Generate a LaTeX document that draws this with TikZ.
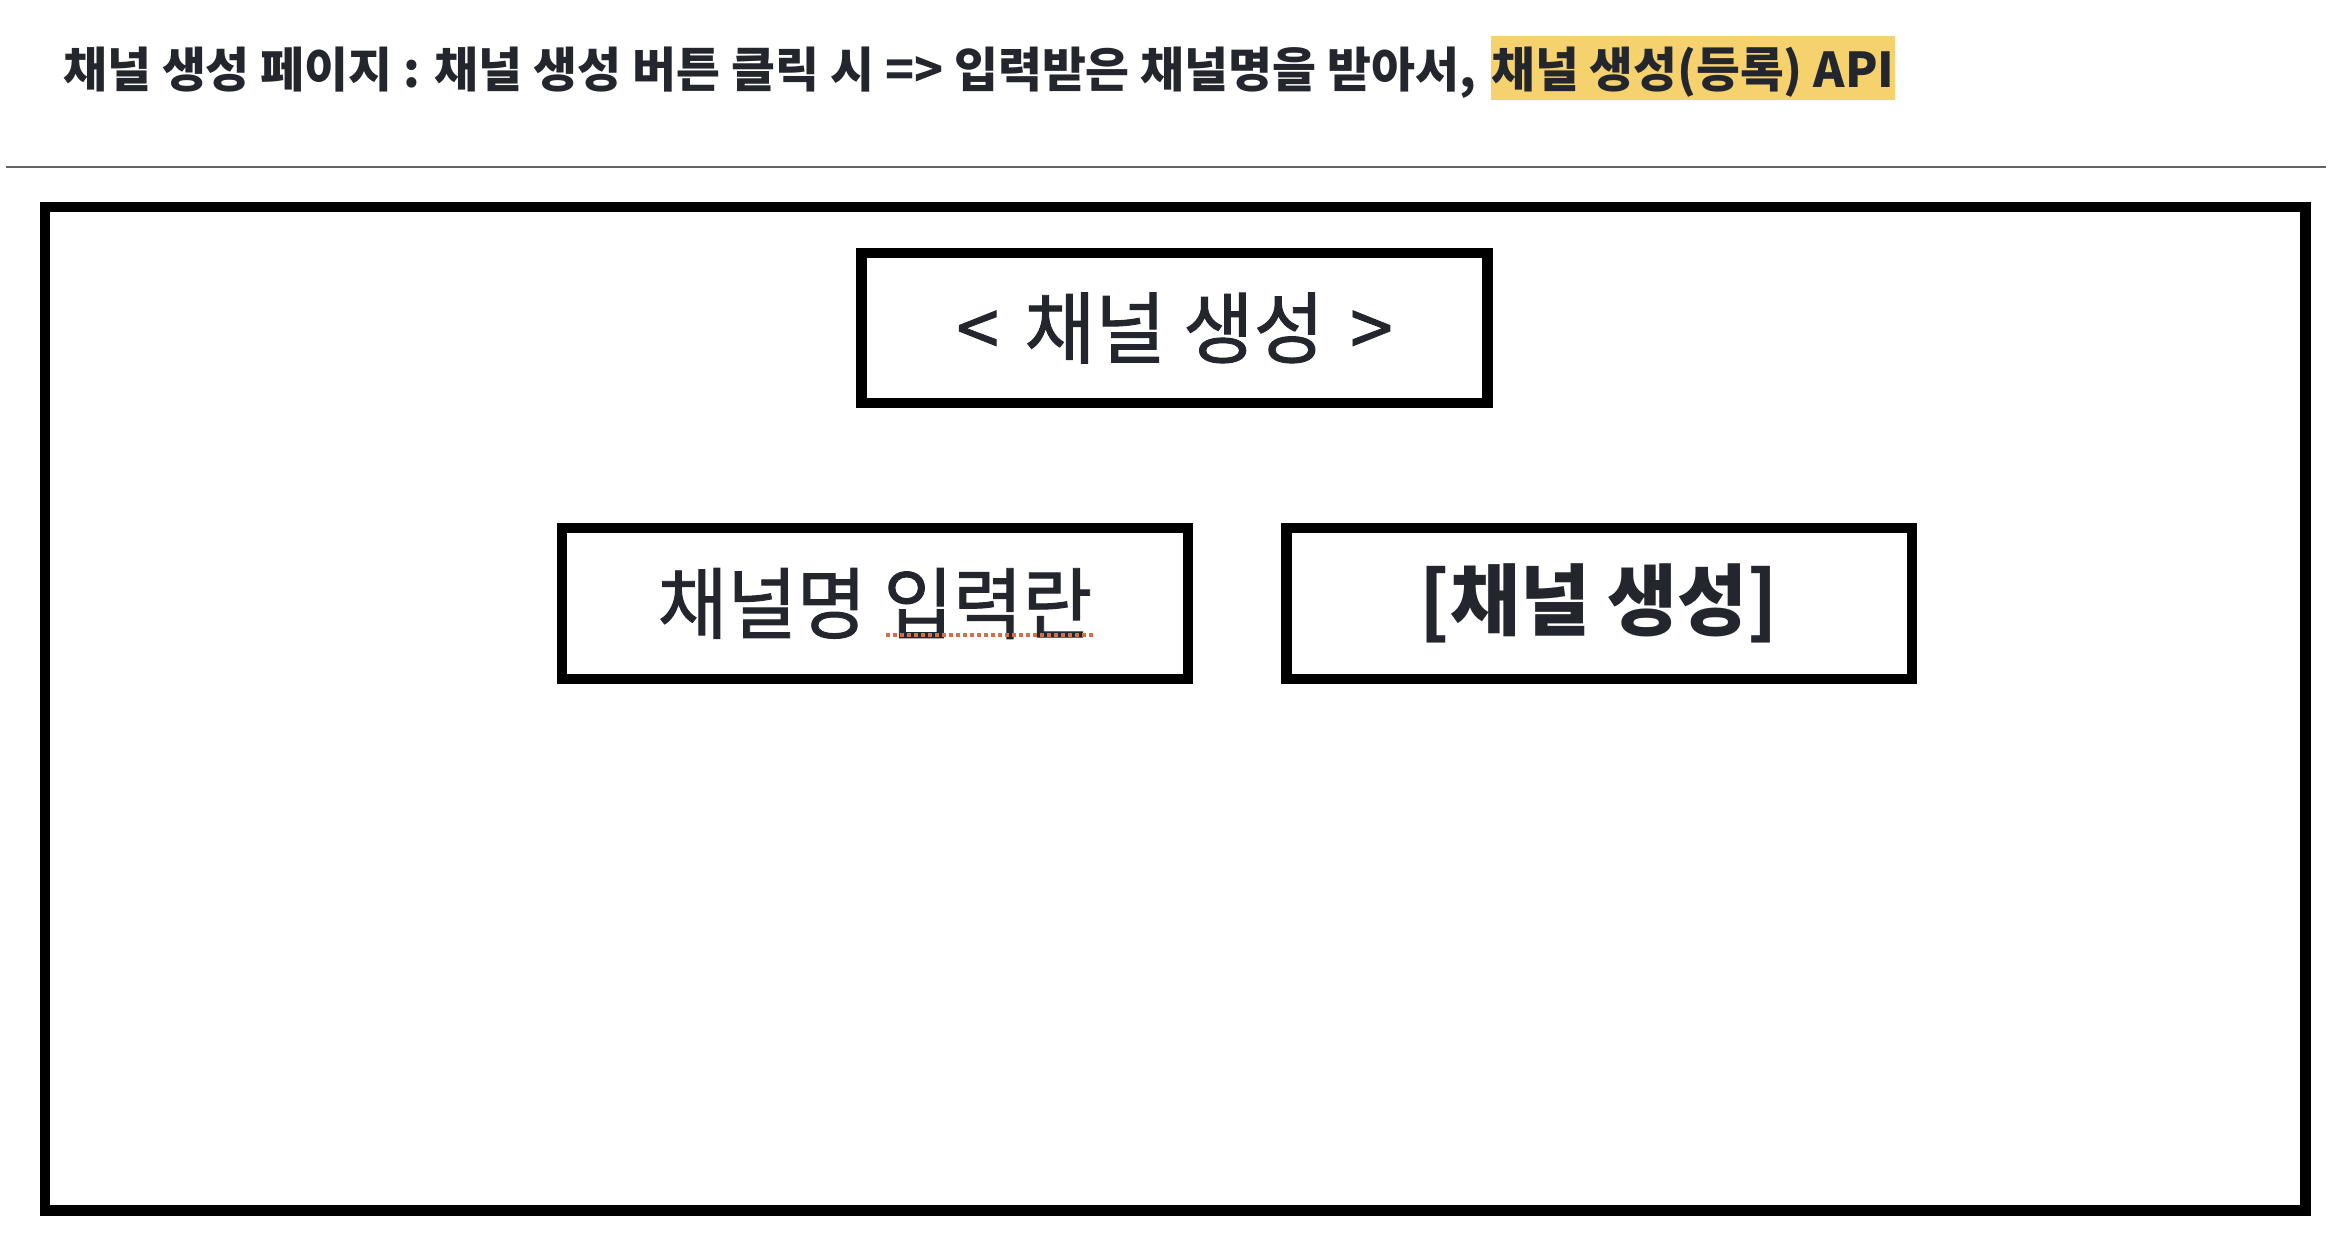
\documentclass[tikz,border=0pt]{standalone}
\usepackage{fontspec}
\usepackage{graphicx}
\newfontfamily\kr{Noto Sans CJK KR}
\newfontfamily\krm[FakeBold=1.2]{Noto Sans CJK KR}
\definecolor{ink}{RGB}{35,38,44}
\definecolor{hl}{RGB}{246,210,110}
\definecolor{rulegray}{RGB}{100,100,100}
\definecolor{spell}{RGB}{214,110,70}
\begin{document}
\begin{tikzpicture}[x=1pt,y=-1pt,
  frame/.style={draw=black, line width=10.5pt, inner sep=0pt, text=ink},
  headline/.style={inner sep=0pt, text=ink, font=\kr\bfseries\fontsize{48}{52}\selectfont},
  big/.style={font=\krm\fontsize{78}{84}\selectfont},
  bigbold/.style={font=\kr\bfseries\fontsize{78}{84}\selectfont}]
\useasboundingbox (0,0) rectangle (2342,1242);
\fill[white] (0,0) rectangle (2342,1242);
% heading
\node[headline, anchor=base west] (t1) at (63,87) {\scalebox{0.995}[1]{채널 생성 페이지 : 채널 생성 버튼 클릭 시 => 입력받은 채널명을 받아서,}};
\node[headline, anchor=base west, fill=hl, inner xsep=1pt, text height=45pt, text depth=7pt, inner ysep=6pt] (t2) at ([xshift=14pt]t1.base east) {\scalebox{0.99}[1]{채널 생성(등록) API}};
% rule
\coordinate (rl) at (6,167);
\coordinate (rr) at (2326,167);
\draw[rulegray, line width=2pt] (rl) -- (rr);
% page frame
\node[frame, minimum width=2260.5pt, minimum height=1003.5pt] (page) at (1175.25,708.75) {};
% boxes
\node[frame, big, minimum width=625.6pt, minimum height=150pt] (head) at (1174.5,328) {\scalebox{0.985}[1]{<\,\,채널 생성\,\,>}};
\node[frame, big, minimum width=626pt, minimum height=151pt] (input) at (875,603.5) {\scalebox{0.97}[1]{채널명 입력란}};
\node[frame, bigbold, minimum width=625.5pt, minimum height=151pt] (btn) at (1599,603.5) {\scalebox{0.975}[1]{[채널 생성]}};
% spell-check underline
\coordinate (u1) at (886,635);
\coordinate (u2) at (1093,635);
\draw[spell, line width=3.5pt, dash pattern=on 4pt off 3pt] (u1) -- (u2);
\end{tikzpicture}
\end{document}
